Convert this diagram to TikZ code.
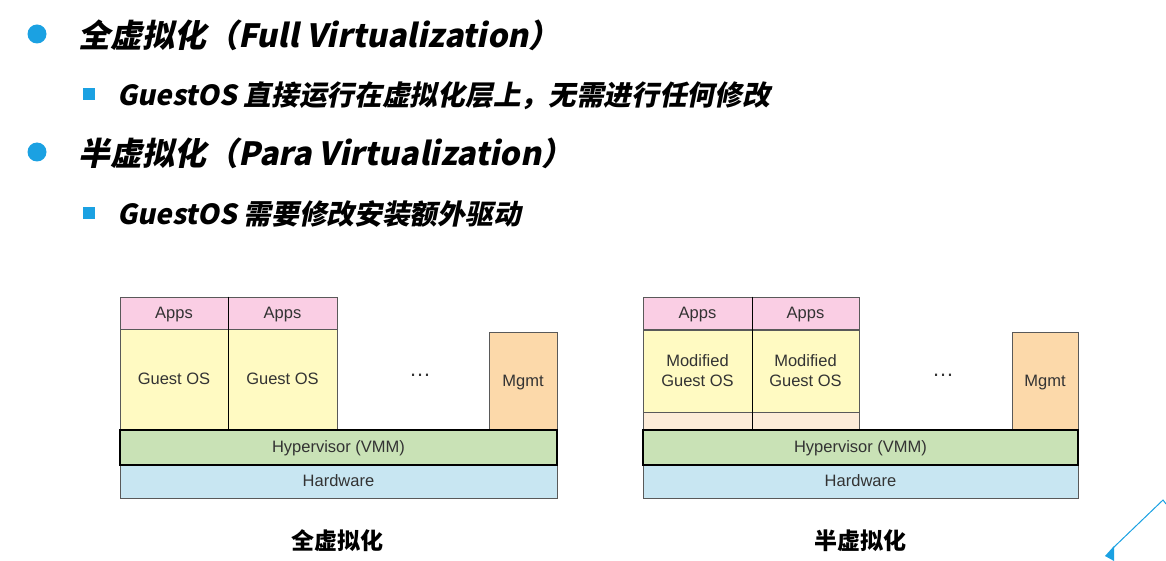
\documentclass[tikz,border=0pt]{standalone}
\usepackage{fontspec}
\setmainfont{Liberation Sans}
\newfontfamily\cjk{Noto Sans CJK SC}[FakeSlant=0.2]
\newfontfamily\cjkup{Noto Sans CJK SC}
\definecolor{bulletc}{RGB}{27,161,226}
\definecolor{appsc}{RGB}{250,206,228}
\definecolor{guestc}{RGB}{255,250,194}
\definecolor{stripc}{RGB}{253,236,216}
\definecolor{mgmtc}{RGB}{252,217,170}
\definecolor{hypc}{RGB}{201,226,182}
\definecolor{hwc}{RGB}{200,230,242}
\begin{document}
\begin{tikzpicture}[x=1pt,y=-1pt,
	box/.style={draw=black!65, line width=0.8pt, inner sep=0pt, text=black!80, align=center, text depth=1pt, font=\fontsize{16.5}{20.5}\selectfont},
	vmm/.style={box, draw=black, line width=2.6pt},
	head/.style={anchor=west, inner sep=0pt, font=\cjk\bfseries\fontsize{32}{36}\selectfont},
	sub/.style={anchor=west, inner sep=0pt, font=\cjk\bfseries\fontsize{27.7}{32}\selectfont},
	caption/.style={font=\cjkup\bfseries\fontsize{23}{26}\selectfont},
	dot/.style={circle, fill=bulletc, minimum size=19, inner sep=0pt},
	sq/.style={fill=bulletc, minimum size=12, inner sep=0pt}]
	\useasboundingbox (0,0) rectangle (1166,561);
	% bullet list
	\node[dot] (dotA) at (37,34) {};
	\node[head] (headA) at (78,35) {全虚拟化（Full Virtualization）};
	\node[sq] (sqA) at (89,94) {};
	\node[sub] (subA) at (117,96) {GuestOS 直接运行在虚拟化层上，无需进行任何修改};
	\node[dot] (dotB) at (37,152) {};
	\node[head] (headB) at (78,153) {半虚拟化（Para Virtualization）};
	\node[sq] (sqB) at (89,213) {};
	\node[sub] (subB) at (117,214) {GuestOS 需要修改安装额外驱动};
	% full virtualization
	\node[box, fill=appsc, minimum width=108, minimum height=32] (appsL1) at (174,313) {Apps};
	\node[box, fill=appsc, minimum width=109, minimum height=32] (appsL2) at (282.5,313) {Apps};
	\node[box, fill=guestc, minimum width=108, minimum height=101] (guestL1) at (174,379.5) {Guest OS};
	\node[box, fill=guestc, minimum width=109, minimum height=101] (guestL2) at (282.5,379.5) {Guest OS};
	\node[box, fill=mgmtc, minimum width=68, minimum height=98] (mgmtL) at (523,381) {Mgmt};
	\node[box, draw=none, font=\fontsize{22}{24}\selectfont] (moreL) at (420,376) {…};
	\node[box, fill=hwc, minimum width=437, minimum height=33] (hwL) at (338.5,481.5) {Hardware};
	\node[vmm, fill=hypc, minimum width=437, minimum height=35] (hypL) at (338.5,447.5) {Hypervisor (VMM)};
	\draw[black, line width=1.4pt] (appsL1.north east) -- (guestL1.south east);
	\node[caption] (capL) at (337,541) {全虚拟化};
	% para virtualization
	\node[box, fill=appsc, minimum width=109, minimum height=32] (appsR1) at (697.5,313) {Apps};
	\node[box, fill=appsc, minimum width=107, minimum height=32] (appsR2) at (805.5,313) {Apps};
	\node[box, fill=guestc, minimum width=109, minimum height=82] (guestR1) at (697.5,371) {Modified\\Guest OS};
	\node[box, fill=guestc, minimum width=107, minimum height=82] (guestR2) at (805.5,371) {Modified\\Guest OS};
	\node[box, fill=stripc, minimum width=109, minimum height=18] (drvR1) at (697.5,421) {};
	\node[box, fill=stripc, minimum width=107, minimum height=18] (drvR2) at (805.5,421) {};
	\node[box, fill=mgmtc, minimum width=66, minimum height=98] (mgmtR) at (1045,381) {Mgmt};
	\node[box, draw=none, font=\fontsize{22}{24}\selectfont] (moreR) at (943,376) {…};
	\node[box, fill=hwc, minimum width=435, minimum height=33] (hwR) at (860.5,481.5) {Hardware};
	\node[vmm, fill=hypc, minimum width=435, minimum height=35] (hypR) at (860.5,447.5) {Hypervisor (VMM)};
	\draw[black, line width=1.4pt] (appsR1.north east) -- (drvR1.south east);
	\node[caption] (capR) at (860,541) {半虚拟化};
	% corner mark
	\coordinate (cornerA) at (1166,504);
	\coordinate (cornerB) at (1163,500);
	\coordinate (cornerC) at (1113,548);
	\draw[bulletc, line width=1pt] (cornerA) -- (cornerB) -- (cornerC);
	\fill[bulletc] (1114,546) -- (1105,556) -- (1114,561) -- cycle;
\end{tikzpicture}
\end{document}
